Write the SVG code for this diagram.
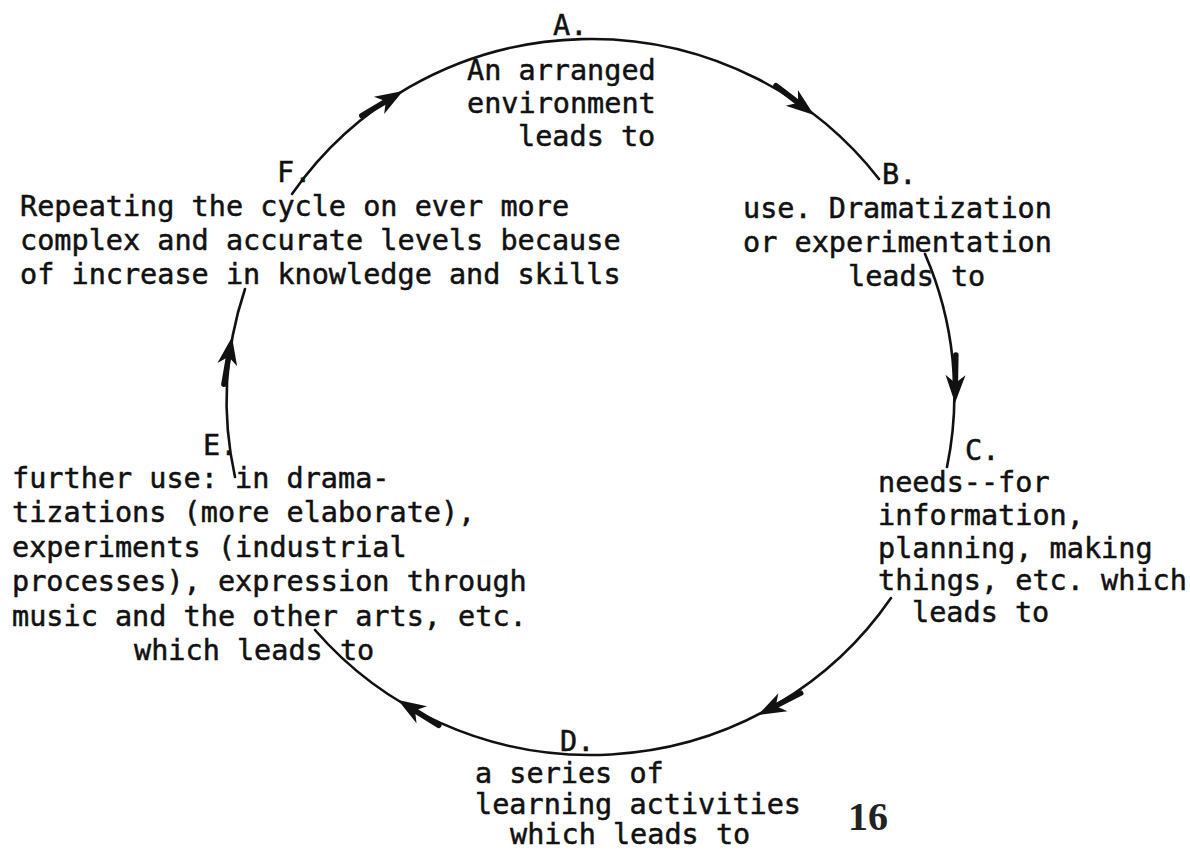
<svg xmlns="http://www.w3.org/2000/svg" xmlns:xlink="http://www.w3.org/1999/xlink" width="1190" height="852" viewBox="0 0 1190 852">
<defs>
<style>
text{font-family:"DejaVu Sans Mono","Liberation Mono",monospace;font-size:28.5px;fill:#111;stroke:#111;stroke-width:0.5px;}
.arc{fill:none;stroke:#111;stroke-width:2.6;stroke-linecap:round;}
.shaft{fill:none;stroke:#111;stroke-width:5.5;stroke-linecap:round;}
.head{fill:#111;stroke:none;}
.pg{font-family:"Liberation Serif",serif;font-size:40px;font-weight:bold;fill:#222;stroke:none;}
</style>
<g id="ah">
<path class="shaft" d="M-20,0 L-48,0"/>
<path class="head" d="M0,0 L-28,-10 L-20,0 L-28,10 Z"/>
</g>
</defs>
<rect width="1190" height="852" fill="#fff"/>

<g id="connectors">
<path class="arc" d="M292,194 A363 358 0 0 1 879,179"/>
<path class="arc" d="M925,254 A363 358 0 0 1 947,467"/>
<path class="arc" d="M891,598 A363 358 0 0 1 315,630"/>
<path class="arc" d="M235,477 A363 358 0 0 1 245,289"/>
<use xlink:href="#ah" href="#ah" transform="translate(403,91) rotate(-31)"/>
<use xlink:href="#ah" href="#ah" transform="translate(814,115) rotate(37.6)"/>
<use xlink:href="#ah" href="#ah" transform="translate(955,403) rotate(91)"/>
<use xlink:href="#ah" href="#ah" transform="translate(758,715) rotate(152.9)"/>
<use xlink:href="#ah" href="#ah" transform="translate(398,700) rotate(211.8)"/>
<use xlink:href="#ah" href="#ah" transform="translate(232,337) rotate(-80.3)"/>
</g>

<g id="nodeA">
<text x="553" y="35">A.</text>
<text x="467" y="80">An arranged</text>
<text x="467" y="113">environment</text>
<text x="518" y="146">leads to</text>
</g>

<g id="nodeB">
<text x="882" y="184">B.</text>
<text x="743" y="218">use. Dramatization</text>
<text x="743" y="252">or experimentation</text>
<text x="848" y="286">leads to</text>
</g>

<g id="nodeC">
<text x="965" y="460">C.</text>
<text x="878" y="492">needs--for</text>
<text x="878" y="525">information,</text>
<text x="878" y="558">planning, making</text>
<text x="878" y="590">things, etc. which</text>
<text x="912" y="622">leads to</text>
</g>

<g id="nodeD">
<text x="560" y="751">D.</text>
<text x="475" y="783">a series of</text>
<text x="475" y="814">learning activities</text>
<text x="510" y="844">which leads to</text>
</g>

<g id="nodeE">
<text x="203" y="455">E.</text>
<text x="12" y="488">further use: in drama-</text>
<text x="12" y="522">tizations (more elaborate),</text>
<text x="12" y="557">experiments (industrial</text>
<text x="12" y="591">processes), expression through</text>
<text x="12" y="626">music and the other arts, etc.</text>
<text x="134" y="660">which leads to</text>
</g>

<g id="nodeF">
<text x="277" y="182">F.</text>
<text x="20" y="216">Repeating the cycle on ever more</text>
<text x="20" y="250">complex and accurate levels because</text>
<text x="20" y="284">of increase in knowledge and skills</text>
</g>

<g id="page">
<text class="pg" x="848" y="830">16</text>
</g>
</svg>
